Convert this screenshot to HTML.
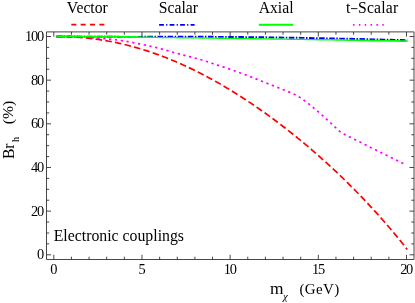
<!DOCTYPE html>
<html><head><meta charset="utf-8"><title>Br_h</title>
<style>
html,body{margin:0;padding:0;background:#fff;width:415px;height:303px;overflow:hidden;font-family:"Liberation Serif",serif}
svg{position:absolute;left:0;top:0;will-change:transform}
.t text{font-family:"Liberation Serif",serif}
</style>
</head><body>
<svg width="415" height="303" viewBox="0 0 415 303">
<rect width="415" height="303" fill="#fff"/>
<path d="M56.50,36.56 L60.44,36.58 L64.38,36.66 L68.32,36.78 L72.27,36.96 L76.21,37.19 L80.15,37.47 L84.09,37.81 L88.03,38.20 L91.97,38.65 L95.92,39.15 L99.86,39.71 L103.80,40.33 L107.74,41.00 L111.68,41.73 L115.62,42.52 L119.57,43.37 L123.51,44.27 L127.45,45.24 L131.39,46.26 L135.33,47.33 L139.27,48.47 L143.21,49.66 L147.16,50.91 L151.10,52.22 L155.04,53.59 L158.98,55.01 L162.92,56.48 L166.86,58.02 L170.81,59.60 L174.75,61.25 L178.69,62.95 L182.63,64.70 L186.57,66.50 L190.51,68.36 L194.46,70.28 L198.40,72.24 L202.34,74.26 L206.28,76.33 L210.22,78.45 L214.16,80.62 L218.10,82.84 L222.05,85.12 L225.99,87.44 L229.93,89.81 L233.87,92.23 L237.81,94.70 L241.75,97.21 L245.70,99.78 L249.64,102.39 L253.58,105.05 L257.52,107.76 L261.46,110.51 L265.40,113.31 L269.34,116.16 L273.29,119.05 L277.23,122.00 L281.17,124.98 L285.11,128.02 L289.05,131.10 L292.99,134.23 L296.94,137.41 L300.88,140.64 L304.82,143.92 L308.76,147.24 L312.70,150.62 L316.64,154.04 L320.59,157.52 L324.53,161.05 L328.47,164.63 L332.41,168.26 L336.35,171.95 L340.29,175.70 L344.23,179.50 L348.18,183.36 L352.12,187.28 L356.06,191.26 L360.00,195.31 L363.94,199.42 L367.88,203.60 L371.83,207.84 L375.77,212.16 L379.71,216.55 L383.65,221.01 L387.59,225.55 L391.53,230.17 L395.48,234.88 L399.42,239.67 L403.36,244.54 L407.30,249.51" fill="none" stroke="#ff0000" stroke-width="1.7" stroke-dasharray="6.6 3.2"/>
<path d="M56.50,36.50 L58.81,36.55 L61.12,36.59 L63.44,36.63 L65.75,36.67 L68.06,36.71 L70.38,36.76 L72.69,36.82 L75.00,36.90 L77.62,37.00 L80.25,37.11 L82.88,37.22 L85.50,37.35 L88.12,37.49 L90.75,37.64 L93.38,37.81 L96.00,38.00 L99.12,38.23 L102.25,38.48 L105.38,38.74 L108.50,39.02 L111.62,39.34 L114.75,39.68 L117.88,40.07 L121.00,40.50 L123.62,40.90 L126.25,41.34 L128.88,41.80 L131.50,42.29 L134.12,42.80 L136.75,43.33 L139.38,43.86 L142.00,44.40 L143.81,44.77 L145.62,45.15 L147.44,45.53 L149.25,45.92 L151.06,46.32 L152.88,46.73 L154.69,47.15 L156.50,47.60 L158.31,48.07 L160.12,48.57 L161.94,49.08 L163.75,49.61 L165.56,50.14 L167.38,50.67 L169.19,51.19 L171.00,51.70 L172.82,52.20 L174.65,52.69 L176.47,53.18 L178.30,53.66 L180.12,54.15 L181.95,54.63 L183.78,55.11 L185.60,55.60 L187.65,56.14 L189.70,56.67 L191.75,57.20 L193.80,57.73 L195.85,58.27 L197.90,58.82 L199.95,59.40 L202.00,60.00 L203.62,60.50 L205.25,61.02 L206.88,61.56 L208.50,62.10 L210.12,62.65 L211.75,63.20 L213.38,63.75 L215.00,64.30 L217.62,65.17 L220.25,66.05 L222.88,66.92 L225.50,67.80 L228.12,68.68 L230.75,69.57 L233.38,70.48 L236.00,71.40 L237.81,72.04 L239.62,72.69 L241.44,73.34 L243.25,74.00 L245.06,74.66 L246.88,75.33 L248.69,76.01 L250.50,76.70 L252.31,77.40 L254.12,78.12 L255.94,78.84 L257.75,79.57 L259.56,80.31 L261.38,81.04 L263.19,81.77 L265.00,82.50 L266.82,83.23 L268.65,83.95 L270.48,84.68 L272.30,85.41 L274.12,86.13 L275.95,86.85 L277.78,87.58 L279.60,88.30 L280.90,88.81 L282.20,89.31 L283.50,89.80 L284.80,90.30 L286.10,90.80 L287.40,91.31 L288.70,91.85 L290.00,92.40 L290.91,92.79 L291.82,93.19 L292.74,93.58 L293.65,93.98 L294.56,94.40 L295.48,94.84 L296.39,95.30 L297.30,95.80 L298.20,96.33 L299.10,96.88 L300.00,97.46 L300.90,98.06 L301.80,98.68 L302.70,99.31 L303.60,99.95 L304.50,100.60 L305.41,101.27 L306.32,101.95 L307.24,102.65 L308.15,103.36 L309.06,104.08 L309.98,104.81 L310.89,105.55 L311.80,106.30 L312.70,107.05 L313.60,107.80 L314.50,108.57 L315.40,109.35 L316.30,110.13 L317.20,110.92 L318.10,111.71 L319.00,112.50 L319.91,113.30 L320.82,114.11 L321.74,114.92 L322.65,115.73 L323.56,116.55 L324.48,117.36 L325.39,118.18 L326.30,119.00 L327.21,119.82 L328.12,120.63 L329.04,121.45 L329.95,122.27 L330.86,123.09 L331.78,123.92 L332.69,124.76 L333.60,125.60 L334.34,126.30 L335.08,127.03 L335.81,127.77 L336.55,128.51 L337.29,129.23 L338.02,129.93 L338.76,130.59 L339.50,131.20 L339.88,131.49 L340.25,131.77 L340.62,132.05 L341.00,132.31 L341.38,132.57 L341.75,132.82 L342.12,133.07 L342.50,133.30 L342.85,133.51 L343.20,133.71 L343.55,133.90 L343.90,134.08 L344.25,134.26 L344.60,134.44 L344.95,134.62 L345.30,134.80 L345.93,135.12 L346.55,135.44 L347.18,135.76 L347.80,136.07 L348.43,136.37 L349.05,136.68 L349.68,136.99 L350.30,137.30 L351.57,137.93 L352.85,138.55 L354.12,139.17 L355.40,139.79 L356.68,140.41 L357.95,141.04 L359.23,141.66 L360.50,142.30 L361.86,142.99 L363.23,143.69 L364.59,144.40 L365.95,145.11 L367.31,145.82 L368.67,146.52 L370.04,147.22 L371.40,147.90 L372.67,148.53 L373.95,149.14 L375.23,149.75 L376.50,150.35 L377.77,150.96 L379.05,151.56 L380.33,152.18 L381.60,152.80 L382.33,153.16 L383.05,153.52 L383.77,153.88 L384.50,154.25 L385.23,154.61 L385.95,154.97 L386.67,155.34 L387.40,155.70 L389.56,156.78 L391.72,157.86 L393.89,158.93 L396.05,160.00 L398.21,161.08 L400.38,162.15 L402.54,163.23 L404.70,164.30" fill="none" stroke="#ff00ff" stroke-width="1.7" stroke-dasharray="2.3 3.55"/>
<path d="M56.50,36.50 L62.35,36.51 L68.19,36.53 L74.04,36.55 L79.89,36.58 L85.73,36.61 L91.58,36.64 L97.43,36.68 L103.27,36.72 L109.12,36.76 L114.97,36.80 L120.81,36.85 L126.66,36.90 L132.51,36.93 L138.35,36.86 L144.20,36.81 L150.05,36.77 L155.89,36.73 L161.74,36.71 L167.59,36.69 L173.43,36.69 L179.28,36.69 L185.13,36.70 L190.97,36.71 L196.82,36.73 L202.67,36.75 L208.51,36.79 L214.36,36.82 L220.21,36.86 L226.05,36.91 L231.90,36.96 L237.75,37.01 L243.59,37.07 L249.44,37.13 L255.29,37.19 L261.13,37.26 L266.98,37.33 L272.83,37.41 L278.67,37.49 L284.52,37.58 L290.37,37.68 L296.21,37.77 L302.06,37.88 L307.91,37.98 L313.75,38.09 L319.60,38.20 L325.45,38.32 L331.29,38.44 L337.14,38.56 L342.99,38.68 L348.83,38.81 L354.68,38.94 L360.53,39.07 L366.37,39.20 L372.22,39.34 L378.07,39.48 L383.91,39.62 L389.76,39.76 L395.61,39.90 L401.45,40.05 L407.30,40.20" fill="none" stroke="#0000ff" stroke-width="1.9" stroke-dasharray="5.6 1.5 1.5 1.5"/>
<path d="M56.50,35.55 L62.35,35.56 L68.19,35.58 L74.04,35.60 L79.89,35.63 L85.73,35.66 L91.58,35.69 L97.43,35.73 L103.27,35.77 L109.12,35.81 L114.97,35.85 L120.81,35.90 L126.66,35.95 L132.51,36.03 L138.35,36.22 L144.20,36.41 L150.05,36.58 L155.89,36.75 L161.74,36.88 L167.59,36.95 L173.43,37.01 L179.28,37.08 L185.13,37.14 L190.97,37.21 L196.82,37.29 L202.67,37.36 L208.51,37.43 L214.36,37.51 L220.21,37.59 L226.05,37.66 L231.90,37.75 L237.75,37.83 L243.59,37.91 L249.44,38.00 L255.29,38.08 L261.13,38.17 L266.98,38.26 L272.83,38.35 L278.67,38.44 L284.52,38.53 L290.37,38.63 L296.21,38.72 L302.06,38.81 L307.91,38.88 L313.75,38.95 L319.60,39.03 L325.45,39.10 L331.29,39.18 L337.14,39.25 L342.99,39.33 L348.83,39.41 L354.68,39.49 L360.53,39.57 L366.37,39.65 L372.22,39.74 L378.07,39.82 L383.91,39.91 L389.76,40.00 L395.61,40.08 L401.45,40.17 L407.30,40.26 L407.30,42.07 L401.45,41.95 L395.61,41.83 L389.76,41.72 L383.91,41.60 L378.07,41.49 L372.22,41.38 L366.37,41.26 L360.53,41.15 L354.68,41.05 L348.83,40.94 L342.99,40.83 L337.14,40.73 L331.29,40.62 L325.45,40.52 L319.60,40.42 L313.75,40.32 L307.91,40.22 L302.06,40.12 L296.21,40.02 L290.37,39.93 L284.52,39.83 L278.67,39.74 L272.83,39.65 L266.98,39.56 L261.13,39.47 L255.29,39.38 L249.44,39.30 L243.59,39.21 L237.75,39.13 L231.90,39.05 L226.05,38.96 L220.21,38.89 L214.36,38.81 L208.51,38.73 L202.67,38.66 L196.82,38.59 L190.97,38.51 L185.13,38.44 L179.28,38.38 L173.43,38.31 L167.59,38.25 L161.74,38.18 L155.89,38.12 L150.05,38.06 L144.20,38.01 L138.35,37.95 L132.51,37.90 L126.66,37.85 L120.81,37.80 L114.97,37.75 L109.12,37.71 L103.27,37.67 L97.43,37.63 L91.58,37.59 L85.73,37.56 L79.89,37.53 L74.04,37.50 L68.19,37.48 L62.35,37.46 L56.50,37.45 Z" fill="#00ff00" stroke="none"/>
<g stroke="#262626" stroke-width="0.85" fill="none">
<path d="M46.5,31.9 H414.0 V259.5 H46.5 Z"/>
<path d="M53.80,259.5 v-4.7 M53.80,31.9 v4.7 M71.44,259.5 v-2.8 M71.44,31.9 v2.8 M89.07,259.5 v-2.8 M89.07,31.9 v2.8 M106.70,259.5 v-2.8 M106.70,31.9 v2.8 M124.34,259.5 v-2.8 M124.34,31.9 v2.8 M141.97,259.5 v-4.7 M141.97,31.9 v4.7 M159.61,259.5 v-2.8 M159.61,31.9 v2.8 M177.25,259.5 v-2.8 M177.25,31.9 v2.8 M194.88,259.5 v-2.8 M194.88,31.9 v2.8 M212.51,259.5 v-2.8 M212.51,31.9 v2.8 M230.15,259.5 v-4.7 M230.15,31.9 v4.7 M247.78,259.5 v-2.8 M247.78,31.9 v2.8 M265.42,259.5 v-2.8 M265.42,31.9 v2.8 M283.05,259.5 v-2.8 M283.05,31.9 v2.8 M300.69,259.5 v-2.8 M300.69,31.9 v2.8 M318.32,259.5 v-4.7 M318.32,31.9 v4.7 M335.96,259.5 v-2.8 M335.96,31.9 v2.8 M353.59,259.5 v-2.8 M353.59,31.9 v2.8 M371.23,259.5 v-2.8 M371.23,31.9 v2.8 M388.87,259.5 v-2.8 M388.87,31.9 v2.8 M406.50,259.5 v-4.7 M406.50,31.9 v4.7 M46.5,254.80 h4.5 M414.0,254.80 h-4.5 M46.5,243.89 h2.7 M414.0,243.89 h-2.7 M46.5,232.97 h2.7 M414.0,232.97 h-2.7 M46.5,222.06 h2.7 M414.0,222.06 h-2.7 M46.5,211.14 h4.5 M414.0,211.14 h-4.5 M46.5,200.23 h2.7 M414.0,200.23 h-2.7 M46.5,189.31 h2.7 M414.0,189.31 h-2.7 M46.5,178.40 h2.7 M414.0,178.40 h-2.7 M46.5,167.48 h4.5 M414.0,167.48 h-4.5 M46.5,156.57 h2.7 M414.0,156.57 h-2.7 M46.5,145.65 h2.7 M414.0,145.65 h-2.7 M46.5,134.74 h2.7 M414.0,134.74 h-2.7 M46.5,123.82 h4.5 M414.0,123.82 h-4.5 M46.5,112.91 h2.7 M414.0,112.91 h-2.7 M46.5,101.99 h2.7 M414.0,101.99 h-2.7 M46.5,91.08 h2.7 M414.0,91.08 h-2.7 M46.5,80.16 h4.5 M414.0,80.16 h-4.5 M46.5,69.25 h2.7 M414.0,69.25 h-2.7 M46.5,58.33 h2.7 M414.0,58.33 h-2.7 M46.5,47.42 h2.7 M414.0,47.42 h-2.7 M46.5,36.50 h4.5 M414.0,36.50 h-4.5"/>
</g>
<path d="M71.3,24.7 H106" fill="none" stroke="#ff0000" stroke-width="1.8" stroke-dasharray="5.0 4.35"/>
<path d="M159.1,24.8 H194.6" fill="none" stroke="#0000ff" stroke-width="1.8" stroke-dasharray="4.8 2.25 1.2 2.25"/>
<path d="M258.8,24.7 H293.4" fill="none" stroke="#00ff00" stroke-width="1.9"/>
<path d="M353.0,24.8 H384.2" fill="none" stroke="#ff00ff" stroke-width="1.7" stroke-dasharray="1.5 4.35"/>
<g class="t" fill="#000">
<g font-size="15.7px">
<text x="66.85" y="12.9">Vector</text>
<text x="158.75" y="12.9">Scalar</text>
<text x="258.65" y="12.9">Axial</text>
<text x="345.95" y="12.9">t</text>
<text x="358.0" y="12.9" letter-spacing="0.2">Scalar</text>
<rect x="351.0" y="8.2" width="6.4" height="0.9" stroke="none"/>
</g>
<text x="53.7" y="241.1" font-size="15.8px">Electronic couplings</text>
<g font-size="14.4px" text-anchor="middle" letter-spacing="-1.3">
<text transform="translate(53.3,274.4) scale(1.0,1.0)">0</text>
<text transform="translate(141.5,274.4) scale(1.0,1.0)">5</text>
<text transform="translate(229.7,274.4) scale(1.0,1.0)">10</text>
<text transform="translate(317.9,274.4) scale(1.0,1.0)">15</text>
<text transform="translate(406.1,274.4) scale(1.0,1.0)">20</text>
</g>
<g font-size="14.4px" text-anchor="end" letter-spacing="-1.3">
<text transform="translate(42.8,259.4) scale(1.0,1.0)">0</text>
<text transform="translate(42.8,215.7) scale(1.0,1.0)">20</text>
<text transform="translate(42.8,172.1) scale(1.0,1.0)">40</text>
<text transform="translate(42.8,128.4) scale(1.0,1.0)">60</text>
<text transform="translate(42.8,84.8) scale(1.0,1.0)">80</text>
<text transform="translate(42.8,41.1) scale(1.0,1.0)">100</text>
</g>
<text x="270.0" y="293.8" font-size="17.4px">m</text>
<text x="283.0" y="299.5" font-size="10.8px" font-style="italic">&#967;</text>
<text x="299.4" y="293.8" font-size="15px" letter-spacing="0.4">(GeV)</text>
<text transform="translate(13.7,159.1) rotate(-90)" font-size="15.7px">Br</text>
<text transform="translate(19.1,141.9) rotate(-90)" font-size="10.3px">h</text>
<text transform="translate(13.4,124.3) rotate(-90) scale(1,0.87)" font-size="15.7px">(%)</text>
</g>
</svg>
</body></html>
